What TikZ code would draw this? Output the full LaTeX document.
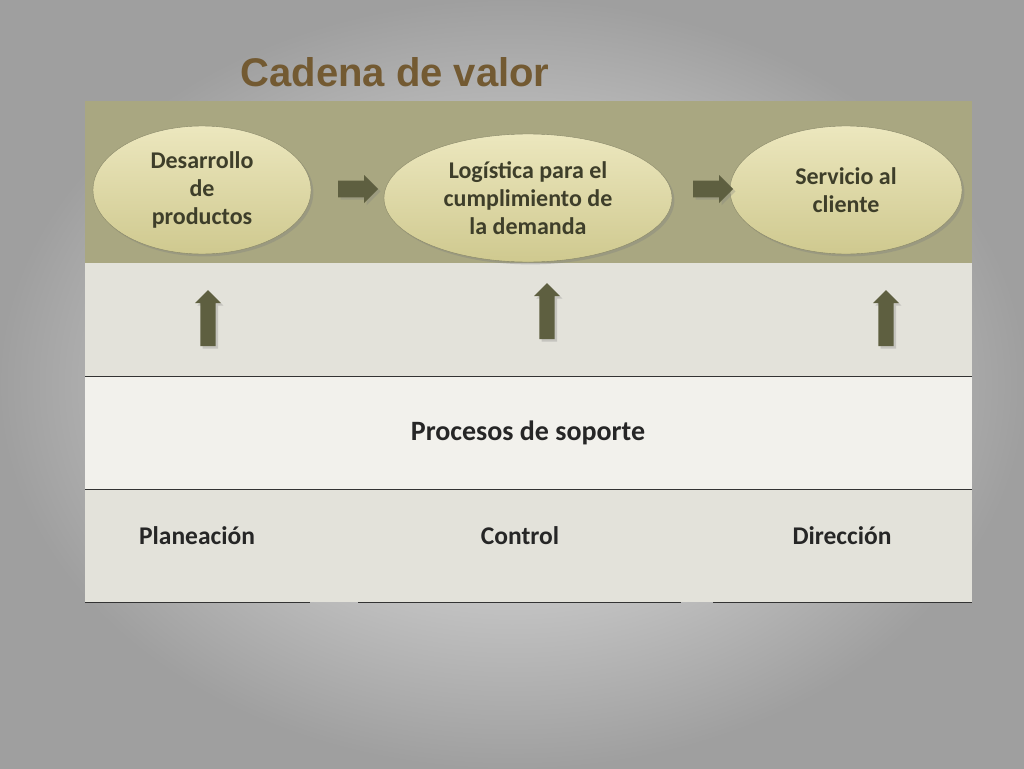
\documentclass[tikz,border=0pt]{standalone}
\usepackage{fontspec}
\setmainfont{Carlito}
\newfontfamily\titlefont{Liberation Sans}
\usetikzlibrary{shapes.geometric,shapes.arrows,shadows}
\definecolor{mybrown}{HTML}{735A32}
\definecolor{myband}{HTML}{A9A781}
\definecolor{mylight}{HTML}{E3E2DA}
\definecolor{mylighter}{HTML}{F2F1EC}
\definecolor{mycream}{HTML}{ECE7BE}
\definecolor{mycreamdark}{HTML}{CFC98F}
\definecolor{myarrow}{HTML}{5E5F40}
\definecolor{mytext}{HTML}{3E3E2A}
\tikzset{
  stage/.style={ellipse,top color=mycream,bottom color=mycreamdark,draw=myband!80!black,
    drop shadow={opacity=.35},align=center,font=\bfseries\fontsize{24}{28}\selectfont,
    text=mytext,inner sep=0pt},
  rarrow/.style={single arrow,draw=none,fill=myarrow,minimum height=40,single arrow head extend=5,
    minimum width=28,inner sep=7,drop shadow={opacity=.3}},
  uarrow/.style={rarrow,shape border rotate=90,minimum height=56,minimum width=26},
  label/.style={font=\bfseries\fontsize{25.5}{28}\selectfont,text=black!85}
}
\begin{document}
\begin{tikzpicture}[x=1pt,y=-1pt]
  \useasboundingbox (0,0) rectangle (1024,768);
  % BACKGROUND
  \shade[inner color=gray!12,outer color=gray!75] (0,0) rectangle (1024,768);

  % TITLE
  \node[font=\titlefont\bfseries\fontsize{40}{42}\selectfont,text=mybrown] (title) at (395,72) {Cadena de valor};

  % BANDS
  \fill[myband] (85,101) rectangle (972,263);
  \fill[mylight] (85,263) rectangle (972,376);
  \fill[mylighter] (85,376) rectangle (972,489);
  \fill[mylight] (85,489) rectangle (972,602);
  \draw[black!80] (85,376) -- (972,376) (85,489) -- (972,489);
  \draw[black!80] (85,602) -- (310,602) (358,602) -- (681,602) (713,602) -- (972,602);

  % STAGES
  \node[stage,minimum width=218,minimum height=128] (dev) at (202,190) {Desarrollo\\de\\productos};
  \node[stage,minimum width=288,minimum height=128] (log) at (528,198) {Log\'istica para el\\cumplimiento de\\la demanda};
  \node[stage,minimum width=232,minimum height=128] (serv) at (846,190) {Servicio al\\cliente};

  % FLOW ARROWS
  \node[rarrow] (a1) at (354,189) {};
  \node[rarrow] (a2) at (709,189) {};
  \node[uarrow] (u1) at (208,322) {};
  \node[uarrow] (u2) at (547,315) {};
  \node[uarrow] (u3) at (886,322) {};

  % SUPPORT
  \node[label,font=\bfseries\fontsize{28}{30}\selectfont] (sup) at (528,433) {Procesos de soporte};
  \node[label] (plan) at (197,536) {Planeaci\'on};
  \node[label] (ctrl) at (520,536) {Control};
  \node[label] (dir) at (842,536) {Direcci\'on};
\end{tikzpicture}
\end{document}
